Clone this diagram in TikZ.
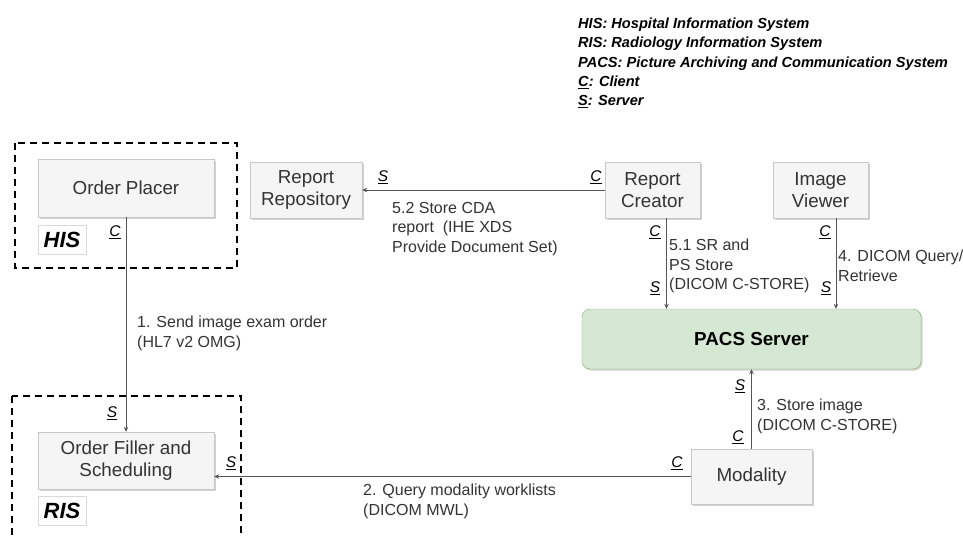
\documentclass[tikz,border=0pt]{standalone}
\usepackage{fontspec}
\setmainfont{Liberation Sans}
\usetikzlibrary{arrows.meta,shadows,calc}
\definecolor{boxfill}{HTML}{F5F5F5}
\definecolor{boxline}{HTML}{C8C8C8}
\definecolor{txt}{HTML}{333333}
\definecolor{pacsfill}{HTML}{D5E8D4}
\definecolor{pacsline}{HTML}{82B366}
\definecolor{conn}{HTML}{555555}
\begin{document}
\begin{tikzpicture}[x=1pt,y=-1pt,
  shd/.style={drop shadow={shadow xshift=1.5pt,shadow yshift=-1.5pt,fill=black!35,opacity=0.5}},
  sysbox/.style={draw=boxline, fill=boxfill, text=txt, align=center, inner sep=0pt,
    font=\fontsize{18.8}{22.5}\selectfont, shd},
  pacsbox/.style={draw=pacsline, fill=pacsfill, rounded corners=8pt, inner sep=0pt,
    font=\fontsize{18.8}{22}\selectfont\bfseries, shd},
  syslbl/.style={draw=boxline!70, fill=white, inner sep=0pt, minimum width=48pt, minimum height=29pt,
    font=\fontsize{22}{26}\selectfont\bfseries\itshape},
  zone/.style={draw=black, line width=2.2pt, dash pattern=on 7pt off 5pt},
  arr/.style={draw=conn, line width=0.9pt, -{Stealth[length=5pt,width=4.5pt]}},
  lbl/.style={text=txt, font=\fontsize{16}{19.5}\selectfont, align=left, inner sep=0pt, anchor=north west},
  cs/.style={text=black, font=\fontsize{15.5}{18}\selectfont\itshape, inner sep=0pt},
  legend/.style={font=\fontsize{14.6}{19.2}\selectfont\bfseries\itshape, align=left, inner sep=0pt, anchor=north west}
]
\useasboundingbox (0,0) rectangle (963,536);
\clip (0,0) rectangle (963,536);

% zones
\draw[zone] (15,143) rectangle (237,268);
\draw[zone] (12,396) rectangle (241,560);

% system boxes
\node[sysbox, minimum width=176pt, minimum height=58pt] (op) at (126,188) {Order Placer};
\node[sysbox, minimum width=176pt, minimum height=57pt] (of) at (126,460.5) {Order Filler and\\Scheduling};
\node[sysbox, minimum width=112pt, minimum height=56pt] (rr) at (306,190) {Report\\Repository};
\node[sysbox, minimum width=95pt, minimum height=56pt] (rc) at (652.5,190) {Report\\Creator};
\node[sysbox, minimum width=95pt, minimum height=56pt] (iv) at (820.5,190) {Image\\Viewer};
\node[pacsbox, minimum width=339pt, minimum height=60pt] (pacs) at (751.5,339) {PACS Server};
\node[sysbox, minimum width=121pt, minimum height=55pt] (mod) at (751.5,476.5) {Modality};

\node[syslbl] (his) at (62,239.5) {HIS};
\node[syslbl] (ris) at (62,510.5) {RIS};

% connectors
\draw[arr] (op.south) -- (of.north);
\draw[arr] (mod.west) -- (mod.west -| of.east);
\draw[arr] (mod.north) -- (pacs.south);
\draw[arr] ([xshift=14pt]rc.south) -- ([xshift=14pt]rc.south |- pacs.north);
\draw[arr] ([xshift=15.5pt]iv.south) -- ([xshift=15.5pt]iv.south |- pacs.north);
\draw[arr] (rc.west) -- (rr.east);

% client/server marks
\node[cs] (c1) at (115,232) {\underline{C}};
\node[cs] (s1) at (112,413) {\underline{S}};
\node[cs] (s2) at (231,463) {\underline{S}};
\node[cs] (c2) at (677,463) {\underline{C}};
\node[cs] (s3) at (740,386) {\underline{S}};
\node[cs] (c3) at (738,437) {\underline{C}};
\node[cs] (s4) at (383,177) {\underline{S}};
\node[cs] (c4) at (596,177) {\underline{C}};
\node[cs] (c5) at (655,232) {\underline{C}};
\node[cs] (s5) at (655,288) {\underline{S}};
\node[cs] (c6) at (825,232) {\underline{C}};
\node[cs] (s6) at (826,288) {\underline{S}};

% message labels
\node[lbl] (m1) at (137,316) {1. Send image exam order\\(HL7 v2 OMG)};
\node[lbl] (m2) at (363,484) {2. Query modality worklists\\(DICOM MWL)};
\node[lbl] (m3) at (757,399) {3. Store image\\(DICOM C-STORE)};
\node[lbl] (m4) at (838,250) {4. DICOM Query/\\Retrieve};
\node[lbl] (m51) at (669,239) {5.1 SR and\\PS Store\\(DICOM C-STORE)};
\node[lbl] (m52) at (392,202) {5.2 Store CDA\\report~ (IHE XDS\\Provide Document Set)};

% legend
\node[legend] (leg) at (578,18) {HIS: Hospital Information System\\
RIS: Radiology Information System\\
PACS: Picture Archiving and Communication System\\
\underline{C}: Client\\
\underline{S}: Server};
\end{tikzpicture}
\end{document}
